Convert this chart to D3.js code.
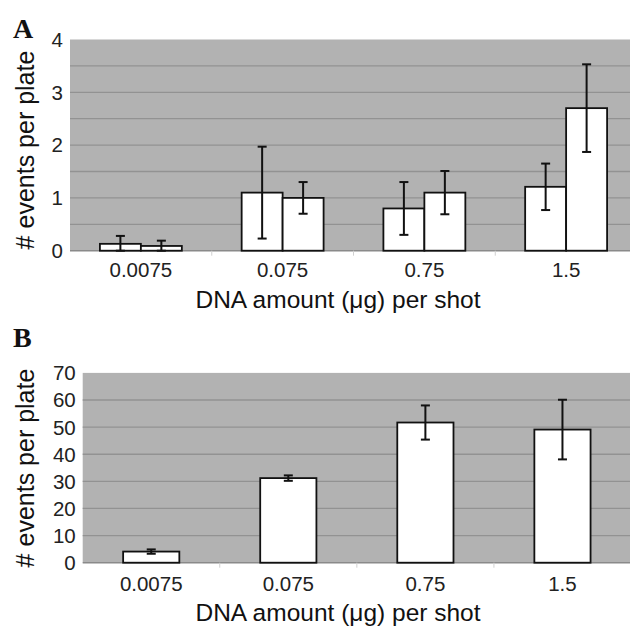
<!DOCTYPE html>
<html>
<head>
<meta charset="utf-8">
<script src="https://cdn.jsdelivr.net/npm/d3@7"></script>
<style>
  body { margin: 0; background: #fff; }
  svg { display: block; }
</style>
</head>
<body>
<div id="container"></div>
<script>
// data
var categories = ["0.0075", "0.075", "0.75", "1.5"];

// panel A: two bars per dose
var seriesA1 = [0.13, 1.1, 0.8, 1.21];
var errA1 = [0.15, 0.87, 0.5, 0.44];
var seriesA2 = [0.09, 1.0, 1.1, 2.7];
var errA2 = [0.1, 0.3, 0.41, 0.83];
var ticksA = [0, 1, 2, 3, 4];
var gridA = [0.5, 1, 1.5, 2, 2.5, 3, 3.5];

// panel B: one bar per dose
var seriesB = [4.1, 31.2, 51.7, 49.1];
var errB = [0.8, 1.0, 6.3, 11];
var ticksB = [0, 10, 20, 30, 40, 50, 60, 70];
var gridB = [10, 20, 30, 40, 50, 60];

var width = 630, height = 630;
var font = "'Liberation Sans', Arial, sans-serif";
var svg = d3.select("#container").append("svg")
  .attr("width", width).attr("height", height);

function panel(opts) {
  var g = svg.append("g");
  var y = d3.scaleLinear().domain(opts.domain).range([opts.bottom, opts.top]);
  var x0 = d3.scaleBand().domain(categories).range([opts.left, opts.right]);
  x0.paddingInner(opts.padIn || 0).paddingOuter(opts.padOut || 0);

  // gray plot background
  g.append("rect")
    .attr("x", opts.left).attr("y", opts.top)
    .attr("width", width - opts.left).attr("height", opts.bottom - opts.top)
    .attr("fill", "#b2b2b2");

  g.selectAll(".grid").data(opts.grid).enter().append("line")
    .attr("x1", opts.left).attr("x2", width)
    .attr("y1", function(d) { return y(d); })
    .attr("y2", function(d) { return y(d); })
    .attr("stroke", "#929292").attr("stroke-width", 1.3);

  // baseline
  g.append("line")
    .attr("x1", opts.left).attr("x2", width)
    .attr("y1", y(0)).attr("y2", y(0))
    .attr("stroke", "#8a8a8a").attr("stroke-width", 1.5);

  // faint category separator ticks
  var step = x0.step();
  var seps = d3.range(1, categories.length).map(function(i) {
    return x0(categories[i]) - step * (opts.padIn || 0) / 2;
  });
  g.selectAll(".sep").data(seps).enter().append("line")
    .attr("x1", function(d) { return d; }).attr("x2", function(d) { return d; })
    .attr("y1", y(0)).attr("y2", y(0) + 5)
    .attr("stroke", "#d0d0d0").attr("stroke-width", 1);

  // y tick labels
  g.selectAll(".ytick").data(opts.ticks).enter().append("text")
    .attr("x", opts.left - 7)
    .attr("y", function(d) { return y(d); })
    .attr("dy", "0.36em")
    .attr("text-anchor", "end")
    .attr("font-family", font).attr("font-size", 20.5)
    .attr("fill", "#222")
    .text(function(d) { return d; });

  // x tick labels
  g.selectAll(".xtick").data(categories).enter().append("text")
    .attr("x", function(d) { return x0(d) + x0.bandwidth() / 2; })
    .attr("y", opts.xTickY)
    .attr("text-anchor", "middle")
    .attr("font-family", font).attr("font-size", 20.5)
    .attr("fill", "#222")
    .text(function(d) { return d; });

  // axis titles
  var xt = g.append("text")
    .attr("x", 338).attr("y", opts.xTitleY)
    .attr("text-anchor", "middle")
    .attr("font-family", font).attr("font-size", 24.5)
    .attr("fill", "#111");
  xt.append("tspan").text("DNA amount (");
  xt.append("tspan").text("\u03bc");
  xt.append("tspan").text("g) per shot");

  g.append("text")
    .attr("transform", "translate(" + opts.yTitleX + "," + opts.yTitleMid + ") rotate(-90)")
    .attr("text-anchor", "middle")
    .attr("font-family", font).attr("font-size", 25)
    .attr("fill", "#111")
    .text("# events per plate");

  g.append("text")
    .attr("x", 13).attr("y", opts.letterY)
    .attr("font-family", "'Liberation Serif', 'Times New Roman', serif")
    .attr("font-weight", "bold").attr("font-size", 28)
    .attr("fill", "#111")
    .text(opts.letter);

  return { g: g, x0: x0, y: y };
}

function bars(p, xs, width, values, errs) {
  var idx = d3.range(values.length);
  p.g.append("g").selectAll("rect").data(idx).enter().append("rect")
    .attr("x", function(i) { return xs(i); })
    .attr("y", function(i) { return p.y(values[i]); })
    .attr("width", width)
    .attr("height", function(i) { return p.y(0) - p.y(values[i]); })
    .attr("fill", "#fff")
    .attr("stroke", "#111").attr("stroke-width", 1.8);

  var eg = p.g.append("g").attr("stroke", "#111").attr("stroke-width", 2);
  idx.forEach(function(i) {
    var cx = xs(i) + width / 2;
    var hi = p.y(values[i] + errs[i]);
    var lo = p.y(Math.max(0, values[i] - errs[i]));
    eg.append("line").attr("x1", cx).attr("x2", cx).attr("y1", hi).attr("y2", lo);
    eg.append("line").attr("x1", cx - 4.5).attr("x2", cx + 4.5).attr("y1", hi).attr("y2", hi);
    eg.append("line").attr("x1", cx - 4.5).attr("x2", cx + 4.5).attr("y1", lo).attr("y2", lo);
  });
}

// ---- panel A
var pA = panel({
  letter: "A", letterY: 38,
  domain: [0, 4], top: 39.5, bottom: 250.7, left: 70, right: 637,
  ticks: ticksA, grid: gridA,
  xTickY: 277, xTitleY: 308, yTitleX: 34, yTitleMid: 150
});
var inner = d3.scaleBand().domain([0, 1]).range([0, pA.x0.bandwidth()]).paddingOuter(0.73);
bars(pA, function(i) { return pA.x0(categories[i]) + inner(0); }, inner.bandwidth(), seriesA1, errA1);
bars(pA, function(i) { return pA.x0(categories[i]) + inner(1); }, inner.bandwidth(), seriesA2, errA2);

// ---- panel B
var pB = panel({
  letter: "B", letterY: 347,
  domain: [0, 70], top: 372.9, bottom: 562.7, left: 82.7, right: 631,
  padIn: 0.59, padOut: 0.295,
  ticks: ticksB, grid: gridB,
  xTickY: 591, xTitleY: 621, yTitleX: 34, yTitleMid: 468
});
bars(pB, function(i) { return pB.x0(categories[i]); }, pB.x0.bandwidth(), seriesB, errB);
</script>
</body>
</html>
